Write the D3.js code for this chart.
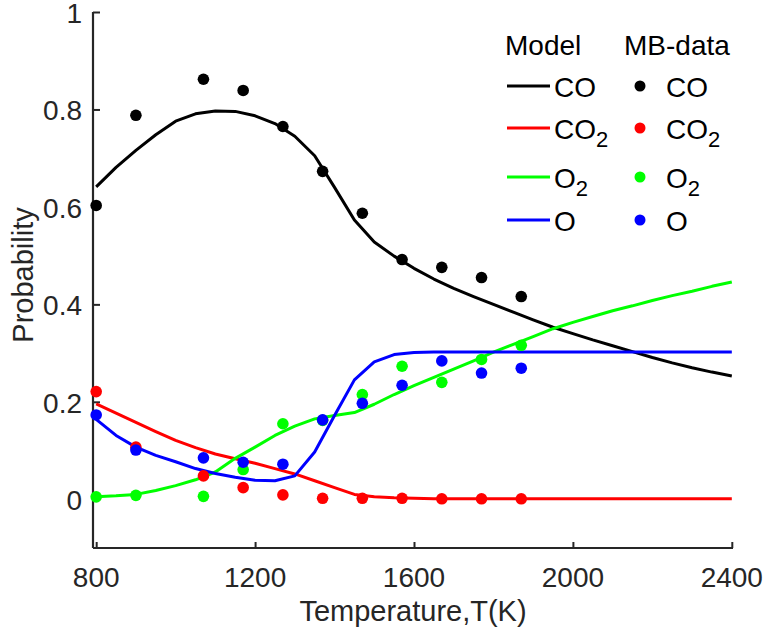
<!DOCTYPE html>
<html>
<head>
<meta charset="utf-8">
<script src="https://d3js.org/d3.v7.min.js"></script>
<style>
  body { margin: 0; background: #fff; }
  svg text { font-family: "Liberation Sans", Arial, Helvetica, sans-serif; }
</style>
</head>
<body>
<div id="chart"></div>
<script>
// model curves, sampled every 50 K
var modelT = [800, 850, 900, 950, 1000, 1050, 1100, 1150, 1200, 1250, 1300, 1350, 1400, 1450, 1500, 1550,
  1600, 1650, 1700, 1750, 1800, 1850, 1900, 1950, 2000, 2050, 2100, 2150, 2200, 2250, 2300, 2350, 2400];
var modelCO = [0.641, 0.681, 0.716, 0.748, 0.776, 0.791, 0.797, 0.796, 0.787, 0.771, 0.745, 0.705, 0.640,
  0.573, 0.528, 0.499, 0.474, 0.452, 0.433, 0.416, 0.400, 0.384, 0.368, 0.353, 0.340, 0.327, 0.315,
  0.303, 0.291, 0.280, 0.270, 0.261, 0.253];
var modelCO2 = [0.196, 0.177, 0.158, 0.139, 0.121, 0.106, 0.093, 0.083, 0.074, 0.063, 0.052, 0.038, 0.024,
  0.010, 0.005, 0.003, 0.002, 0.001, 0.001, 0.001, 0.001, 0.001, 0.001, 0.001, 0.001, 0.001, 0.001,
  0.001, 0.001, 0.001, 0.001, 0.001, 0.001];
var modelO2 = [0.005, 0.007, 0.010, 0.018, 0.028, 0.040, 0.056, 0.084, 0.107, 0.131, 0.150, 0.165, 0.172,
  0.178, 0.195, 0.215, 0.233, 0.250, 0.267, 0.284, 0.302, 0.318, 0.334, 0.350, 0.363, 0.375, 0.387,
  0.397, 0.408, 0.418, 0.427, 0.437, 0.446];
var modelO = [0.164, 0.131, 0.107, 0.090, 0.077, 0.063, 0.053, 0.045, 0.039, 0.038, 0.048, 0.097, 0.172,
  0.245, 0.282, 0.297, 0.301, 0.302, 0.302, 0.302, 0.302, 0.302, 0.302, 0.302, 0.302, 0.302, 0.302,
  0.302, 0.302, 0.302, 0.302, 0.302, 0.302];

// MB-data points
var dataT = [800, 900, 1070, 1170, 1270, 1370, 1470, 1570, 1670, 1770, 1870];
var dataCO = [0.603, 0.788, 0.862, 0.839, 0.765, 0.673, 0.587, 0.492, 0.476, 0.455, 0.416];
var dataCO2 = [0.221, 0.107, 0.048, 0.024, 0.009, 0.002, 0.002, 0.002, 0.001, 0.001, 0.001];
var dataO2 = [0.005, 0.008, 0.006, 0.061, 0.155, 0.162, 0.215, 0.273, 0.240, 0.287, 0.316];
var dataO = [0.173, 0.101, 0.085, 0.076, 0.072, 0.163, 0.197, 0.234, 0.284, 0.259, 0.269];

var xTicks = [800, 1200, 1600, 2000, 2400];
var yTicks = [0, 0.2, 0.4, 0.6, 0.8, 1];

var species = [
  {name: 'CO', sub: '', color: '#000000', model: modelCO, data: dataCO},
  {name: 'CO', sub: '2', color: '#ff0000', model: modelCO2, data: dataCO2},
  {name: 'O', sub: '2', color: '#00ff00', model: modelO2, data: dataO2},
  {name: 'O', sub: '', color: '#0000ff', model: modelO, data: dataO}
];

var W = 766, H = 632;
var axisColor = '#262626';

var x = d3.scaleLinear().domain([792, 2403]).range([93, 733]);
var y = d3.scaleLinear().domain([-0.1, 1]).range([548, 12]);

var svg = d3.select('#chart').append('svg')
  .attr('width', W)
  .attr('height', H);

// axes (ticks point inward, like matlab)
var xAxis = d3.axisTop(x).tickValues(xTicks).tickSize(6).tickFormat('');
var yAxis = d3.axisRight(y).tickValues(yTicks).tickSize(7).tickFormat('');

var gx = svg.append('g')
  .attr('transform', 'translate(0,' + y.range()[0] + ')')
  .call(xAxis);
var gy = svg.append('g')
  .attr('transform', 'translate(' + x.range()[0] + ',0)')
  .call(yAxis);

[gx, gy].forEach(function(g) {
  g.select('.domain').remove();
  g.selectAll('line').attr('stroke', axisColor).attr('stroke-width', 2);
});

svg.append('line')
  .attr('x1', x.range()[0]).attr('x2', x.range()[1])
  .attr('y1', y.range()[0]).attr('y2', y.range()[0])
  .attr('stroke', axisColor).attr('stroke-width', 2.2);
svg.append('line')
  .attr('x1', x.range()[0]).attr('x2', x.range()[0])
  .attr('y1', y.range()[1]).attr('y2', y.range()[0])
  .attr('stroke', axisColor).attr('stroke-width', 2.2);

// tick labels
svg.append('g').selectAll('text')
  .data(xTicks)
  .enter().append('text')
  .attr('x', function(d) { return x(d); })
  .attr('y', 587)
  .attr('text-anchor', 'middle')
  .attr('font-size', 28)
  .attr('fill', axisColor)
  .text(function(d) { return d; });

svg.append('g').selectAll('text')
  .data(yTicks)
  .enter().append('text')
  .attr('x', 82)
  .attr('y', function(d) { return y(d) + 11; })
  .attr('text-anchor', 'end')
  .attr('font-size', 28)
  .attr('fill', axisColor)
  .text(function(d) { return d; });

svg.append('text')
  .attr('x', 413)
  .attr('y', 621)
  .attr('text-anchor', 'middle')
  .attr('font-size', 29)
  .attr('fill', axisColor)
  .text('Temperature,T(K)');

svg.append('text')
  .attr('transform', 'translate(33,' + 275 + ') rotate(-90)')
  .attr('text-anchor', 'middle')
  .attr('font-size', 29)
  .attr('fill', axisColor)
  .text('Probability');

// model lines
var line = d3.line()
  .x(function(d, i) { return x(modelT[i]); })
  .y(function(d) { return y(d); });

species.forEach(function(s) {
  svg.append('path')
    .datum(s.model)
    .attr('fill', 'none')
    .attr('stroke', s.color)
    .attr('stroke-width', 3)
    .attr('stroke-linejoin', 'round')
    .attr('d', line);
});

// data dots
species.forEach(function(s) {
  svg.append('g').selectAll('circle')
    .data(s.data)
    .enter().append('circle')
    .attr('cx', function(d, i) { return x(dataT[i]); })
    .attr('cy', function(d) { return y(d); })
    .attr('r', 5.8)
    .attr('fill', s.color);
});

// legend
var legend = svg.append('g').attr('class', 'legend');
legend.append('text').attr('x', 505).attr('y', 55).attr('font-size', 28).text('Model');
legend.append('text').attr('x', 624).attr('y', 55).attr('font-size', 28).text('MB-data');

var rowY = [86, 128, 177, 220];

species.forEach(function(s, i) {
  var ry = rowY[i];
  legend.append('line')
    .attr('x1', 507).attr('x2', 550)
    .attr('y1', ry).attr('y2', ry)
    .attr('stroke', s.color).attr('stroke-width', 3);
  var t1 = legend.append('text').attr('x', 554).attr('y', ry + 11).attr('font-size', 28);
  t1.append('tspan').text(s.name);
  if (s.sub) t1.append('tspan').attr('dy', 7.5).attr('font-size', 22).text(s.sub);

  legend.append('circle').attr('cx', 640).attr('cy', ry).attr('r', 5.5).attr('fill', s.color);
  var t2 = legend.append('text').attr('x', 666).attr('y', ry + 11).attr('font-size', 28);
  t2.append('tspan').text(s.name);
  if (s.sub) t2.append('tspan').attr('dy', 7.5).attr('font-size', 22).text(s.sub);
});
</script>
</body>
</html>
